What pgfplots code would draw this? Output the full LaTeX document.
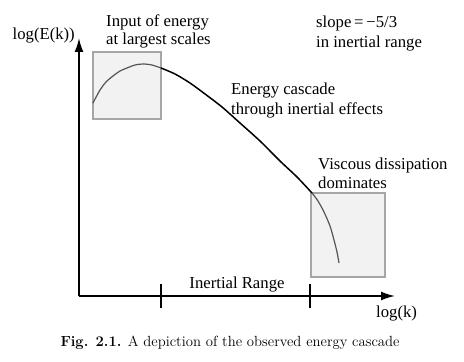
\documentclass[border=0pt]{standalone}
\usepackage{fontspec}
\usepackage{pgfplots}
\pgfplotsset{compat=1.18}
\usetikzlibrary{arrows.meta}
\newfontfamily\tms{Liberation Serif}
\definecolor{boxfill}{HTML}{F2F2F2}
\definecolor{boxedge}{HTML}{A6A6A6}
\definecolor{curvegray}{HTML}{555555}
\begin{document}
\begin{tikzpicture}
\begin{axis}[
  scale only axis, width=316pt, height=258pt,
  xmin=79, xmax=395, ymin=66, ymax=324,
  axis lines=left,
  axis line style={line width=1.8pt, -{Latex[length=14pt,width=9pt]}},
  xtick={161,310}, xticklabels={}, ytick=\empty,
  major tick length=24pt, tick align=center,
  tick style={line width=1.8pt, black},
  clip=false,
]
\path (axis cs:0,0) rectangle (axis cs:464,362);
\draw[fill=boxfill, draw=boxedge, line width=1.2pt] (axis cs:93,310) rectangle (axis cs:161,243);
\draw[fill=boxfill, draw=boxedge, line width=1.2pt] (axis cs:311,169) rectangle (axis cs:385,85);
\addplot[smooth, curvegray, line width=1.2pt] coordinates {
(93,259) (100,272) (106,280) (113,286) (120,291) (127,294) (135,297) (143,298) (152,297) (161,294)};
\addplot[smooth, black, line width=1.5pt] coordinates {
(161,294) (175,288) (190,279) (205,268) (222,255) (240,239) (260,221) (280,201) (297,185) (312,169)};
\addplot[smooth, curvegray, line width=1.2pt] coordinates {
(312,169) (318,161) (324,150) (330,136) (334,122) (337,110) (339,99)};
\tikzset{lab/.style={anchor=base west, inner sep=0pt, font=\tms\fontsize{16.7}{20}\selectfont}}
\node[lab] at (axis cs:106,335) {Input of energy};
\node[lab] at (axis cs:106,317) {at largest scales};
\node[lab] at (axis cs:316,334) {slope\,=\,\textminus5/3};
\node[lab] at (axis cs:316,314) {in inertial range};
\node[lab, anchor=base east] at (axis cs:75,322) {log(E(k))};
\node[lab] at (axis cs:231,267) {Energy cascade};
\node[lab] at (axis cs:231,248) {through inertial effects};
\node[lab] at (axis cs:318,193) {Viscous dissipation};
\node[lab] at (axis cs:318,173) {dominates};
\node[lab, anchor=base] at (axis cs:237,74) {Inertial Range};
\node[lab] at (axis cs:376,45) {log(k)};
\node[anchor=base, inner sep=0pt, font=\fontsize{14.7}{17}\selectfont] at (axis cs:230,16) {\textbf{Fig. 2.1.} A depiction of the observed energy cascade};
\end{axis}
\end{tikzpicture}
\end{document}
